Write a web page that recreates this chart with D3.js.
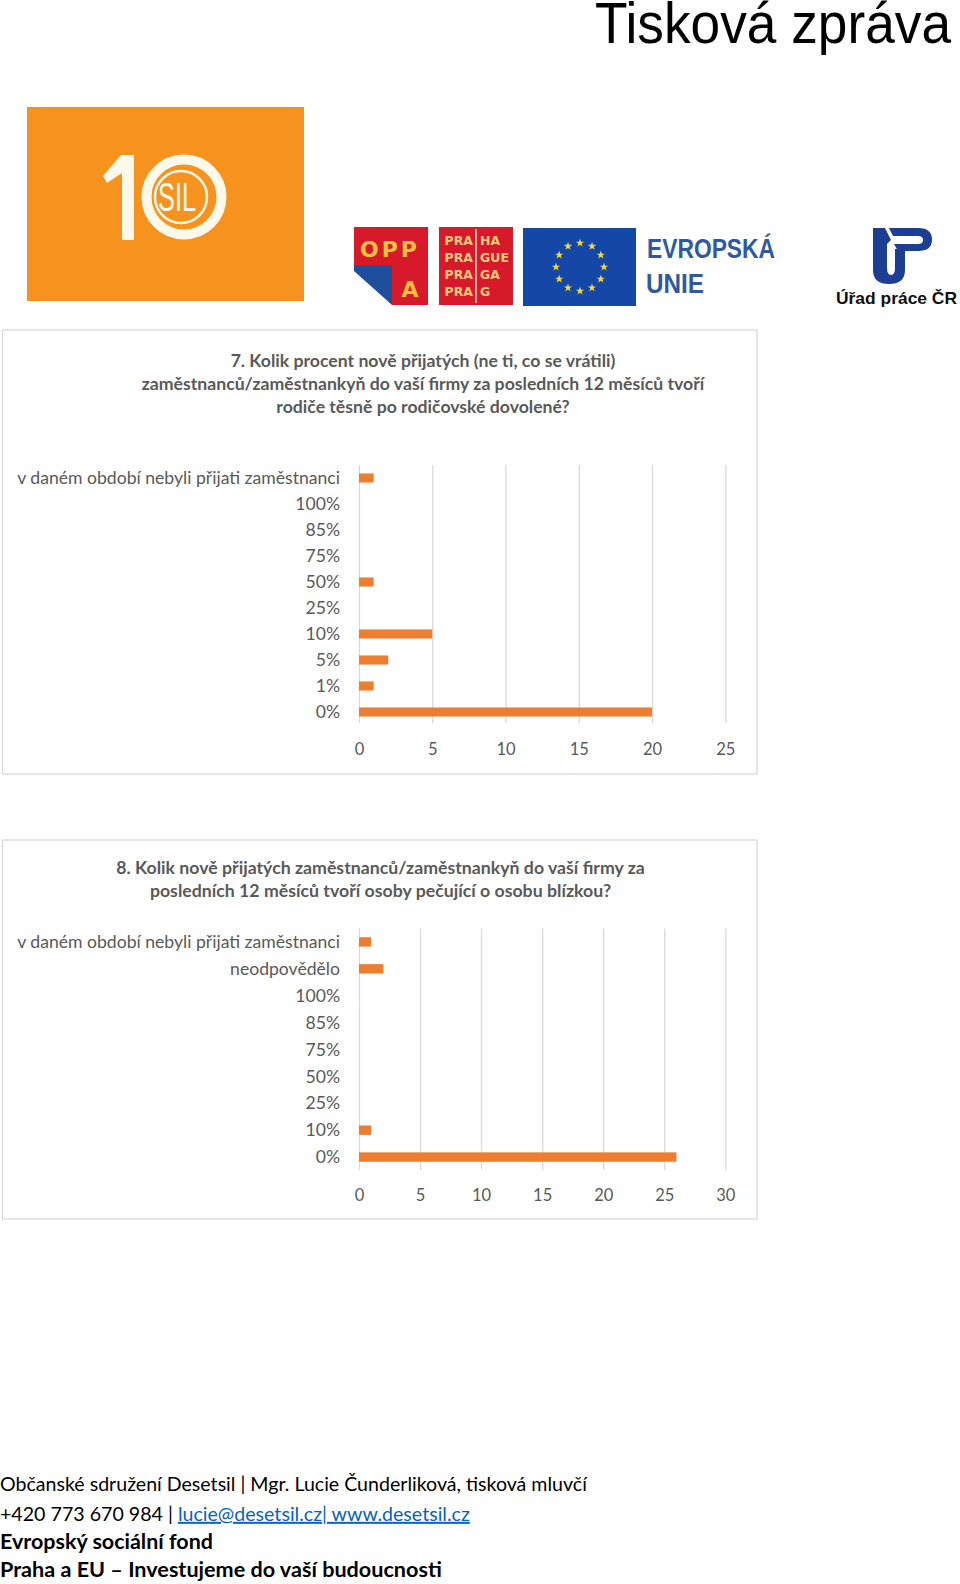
<!DOCTYPE html>
<html>
<head>
<meta charset="utf-8">
<script src="https://cdn.jsdelivr.net/npm/d3@7"></script>
<style>
  html, body { margin: 0; padding: 0; background: #fff; }
  svg { display: block; }
</style>
</head>
<body>
<svg id="page" width="960" height="1584"></svg>
<script>
// ---------------- DATA ----------------
const chart1Title = [
  "7. Kolik procent nově přijatých (ne ti, co se vrátili)",
  "zaměstnanců/zaměstnankyň do vaší firmy za posledních 12 měsíců tvoří",
  "rodiče těsně po rodičovské dovolené?"
];
const chart1Categories = ["v daném období nebyli přijati zaměstnanci", "100%", "85%", "75%", "50%", "25%", "10%", "5%", "1%", "0%"];
const chart1Values = [1, 0, 0, 0, 1, 0, 5, 2, 1, 20];
const chart1Ticks = [0, 5, 10, 15, 20, 25];

const chart2Title = [
  "8. Kolik nově přijatých zaměstnanců/zaměstnankyň do vaší firmy za",
  "posledních 12 měsíců tvoří osoby pečující o osobu blízkou?"
];
const chart2Categories = ["v daném období nebyli přijati zaměstnanci", "neodpovědělo", "100%", "85%", "75%", "50%", "25%", "10%", "0%"];
const chart2Values = [1, 2, 0, 0, 0, 0, 0, 1, 26];
const chart2Ticks = [0, 5, 10, 15, 20, 25, 30];

const footerLine1 = "Občanské sdružení Desetsil | Mgr. Lucie Čunderliková, tisková mluvčí";
const footerLine2a = "+420 773 670 984 | ";
const footerLine2b = "lucie@desetsil.cz| www.desetsil.cz";
const footerLine3 = "Evropský sociální fond";
const footerLine4 = "Praha a EU – Investujeme do vaší budoucnosti";

// ---------------- HELPERS ----------------
const svg = d3.select("#page");
const FONT = "Lato, 'Open Sans', 'Noto Sans', sans-serif";
const GRAY = "#595959";
const BAR = "#ED7D31";
const GRID = "#D9D9D9";

function fitSize(sel, target) {
  const base = parseFloat(sel.attr("font-size"));
  const len = sel.node().getComputedTextLength();
  return base * target / len;
}

svg.append("rect").attr("width", 960).attr("height", 1584).attr("fill", "#fff");

// ---------------- HEADER ----------------
svg.append("text")
  .attr("x", 595).attr("y", 43)
  .attr("font-family", "'Liberation Sans', Arial, sans-serif")
  .attr("font-size", 57)
  .attr("textLength", 356).attr("lengthAdjust", "spacingAndGlyphs")
  .attr("fill", "#000")
  .text("Tisková zpráva");

// 10 SIL logo
const logo = svg.append("g");
const CREAM = "#FFF9EC";
logo.append("rect").attr("x", 27).attr("y", 107).attr("width", 277).attr("height", 194).attr("fill", "#F6931F");
logo.append("polygon")
  .attr("points", "121,155 134,155 134,240 122,240 122,173 107,183 103,176")
  .attr("fill", CREAM);
logo.append("circle").attr("cx", 184).attr("cy", 197).attr("r", 37.5)
  .attr("fill", "none").attr("stroke", CREAM).attr("stroke-width", 10);
logo.append("circle").attr("cx", 181).attr("cy", 197).attr("r", 26)
  .attr("fill", "none").attr("stroke", CREAM).attr("stroke-width", 2.5);
logo.append("text").attr("x", 158).attr("y", 211)
  .attr("font-family", "'Liberation Sans', sans-serif")
  .attr("font-size", 40)
  .attr("textLength", 38).attr("lengthAdjust", "spacingAndGlyphs")
  .attr("fill", CREAM).text("SIL");

// OPPA logo
const oppa = svg.append("g");
oppa.append("rect").attr("x", 354).attr("y", 227).attr("width", 74).attr("height", 40).attr("fill", "#D71A2A");
oppa.append("rect").attr("x", 392).attr("y", 265).attr("width", 36).attr("height", 40).attr("fill", "#D71A2A");
oppa.append("polygon").attr("points", "354,265 392,265 392,305 354,271").attr("fill", "#1F4E9C");
oppa.append("text").attr("x", 390).attr("y", 257).attr("text-anchor", "middle")
  .attr("font-family", "'DejaVu Sans', sans-serif").attr("font-weight", "bold")
  .attr("font-size", 22).attr("letter-spacing", 3).attr("fill", "#F8C23A").text("OPP");
oppa.append("text").attr("x", 410).attr("y", 297).attr("text-anchor", "middle")
  .attr("font-family", "'DejaVu Sans', sans-serif").attr("font-weight", "bold")
  .attr("font-size", 22).attr("fill", "#F8C23A").text("A");

// PRAHA logo
const praha = svg.append("g");
praha.append("rect").attr("x", 439).attr("y", 227).attr("width", 74).attr("height", 78).attr("fill", "#D71A2A");
praha.append("line").attr("x1", 476).attr("x2", 476).attr("y1", 229).attr("y2", 303)
  .attr("stroke", "#F6D6C8").attr("stroke-width", 1.5);
const prahaRight = ["HA", "GUE", "GA", "G"];
prahaRight.forEach((t, i) => {
  const y = 245 + i * 17;
  praha.append("text").attr("x", 473).attr("y", y).attr("text-anchor", "end")
    .attr("font-family", "'DejaVu Sans', sans-serif").attr("font-weight", "bold")
    .attr("font-size", 12.5).attr("fill", "#F8C77E").text("PRA");
  praha.append("text").attr("x", 480).attr("y", y)
    .attr("font-family", "'DejaVu Sans', sans-serif").attr("font-weight", "bold")
    .attr("font-size", 12.5).attr("fill", "#F8C77E").text(t);
});

// EU flag
const eu = svg.append("g");
eu.append("rect").attr("x", 523).attr("y", 228).attr("width", 113).attr("height", 78).attr("fill", "#1547A6");
const star = d3.symbol().type(d3.symbolStar).size(22);
d3.range(12).forEach(i => {
  const a = i / 12 * 2 * Math.PI;
  eu.append("path").attr("d", star())
    .attr("transform", `translate(${580 + 24 * Math.sin(a)},${267 - 24 * Math.cos(a)})`)
    .attr("fill", "#F5DA3A");
});
eu.append("text").attr("x", 647).attr("y", 258)
  .attr("font-family", "'Liberation Sans Narrow', 'Liberation Sans', sans-serif")
  .attr("font-weight", "bold").attr("font-size", 27)
  .attr("textLength", 128).attr("lengthAdjust", "spacingAndGlyphs")
  .attr("fill", "#2F5A9E").text("EVROPSKÁ");
eu.append("text").attr("x", 646).attr("y", 293)
  .attr("font-family", "'Liberation Sans Narrow', 'Liberation Sans', sans-serif")
  .attr("font-weight", "bold").attr("font-size", 27)
  .attr("textLength", 58).attr("lengthAdjust", "spacingAndGlyphs")
  .attr("fill", "#2F5A9E").text("UNIE");

// Úřad práce logo
const up = svg.append("g");
const UPB = "#1C3F94";
up.append("path")
  .attr("d", "M873,228 L885,228 L891,240 L887,244 L887,268 Q887,275 891,275 Q895,275 895,268 L895,249 L905,249 L905,270 Q905,284 889,284 Q873,284 873,270 Z")
  .attr("fill", UPB);
up.append("path")
  .attr("d", "M889,228 L918,228 Q932,228 932,239.5 Q932,251 918,251 L898,251 L894,244 L918,244 Q923,244 923,240 Q923,236 918,236 L893,236 Z")
  .attr("fill", UPB);
up.append("text").attr("x", 836).attr("y", 304)
  .attr("font-family", "'Liberation Sans', Arial, sans-serif").attr("font-weight", "bold")
  .attr("font-size", 16.5).attr("textLength", 121).attr("lengthAdjust", "spacingAndGlyphs")
  .attr("fill", "#111").text("Úřad práce ČR");

// ---------------- CHARTS ----------------
function drawChart(cfg) {
  const g = svg.append("g");
  g.append("rect")
    .attr("x", cfg.box[0]).attr("y", cfg.box[1])
    .attr("width", cfg.box[2] - cfg.box[0]).attr("height", cfg.box[3] - cfg.box[1])
    .attr("fill", "#fff").attr("stroke", GRID).attr("stroke-width", 1.3);

  const titleTexts = g.selectAll("text.title").data(cfg.title).enter().append("text")
    .attr("class", "title")
    .attr("x", cfg.titleX)
    .attr("y", (d, i) => cfg.titleY + i * 23)
    .attr("dy", "0.35em")
    .attr("text-anchor", "middle")
    .attr("font-family", FONT).attr("font-weight", "bold")
    .attr("font-size", 16).attr("fill", GRAY)
    .text(d => d);
  const ts = fitSize(titleTexts.filter((d, i) => i === cfg.titleFitIndex), cfg.titleFitWidth);
  titleTexts.attr("font-size", ts);

  const x = d3.scaleLinear().domain(cfg.domain).range([cfg.x0, cfg.x1]);
  const y = d3.scaleBand().domain(cfg.categories).range([cfg.yTop, cfg.yBottom])
    .paddingInner(0.65).paddingOuter(0.325);

  const axis = d3.axisBottom(x).tickValues(cfg.ticks)
    .tickSize(-(cfg.gridBottom - cfg.yTop)).tickPadding(cfg.tickPad).tickFormat(d3.format("d"));
  const ag = g.append("g").attr("transform", `translate(0,${cfg.gridBottom})`).call(axis);
  ag.select(".domain").remove();
  ag.selectAll(".tick line").attr("stroke", GRID).attr("stroke-width", 1.3);
  ag.selectAll(".tick text").attr("fill", GRAY).attr("font-family", FONT).attr("font-size", 16.5);

  g.selectAll("rect.bar").data(cfg.values).enter().append("rect")
    .attr("class", "bar")
    .attr("x", x(0))
    .attr("y", (d, i) => y(cfg.categories[i]))
    .attr("width", d => x(d) - x(0))
    .attr("height", y.bandwidth())
    .attr("fill", BAR);

  const labels = g.selectAll("text.cat").data(cfg.categories).enter().append("text")
    .attr("class", "cat")
    .attr("x", cfg.x0 - 19)
    .attr("y", d => y(d) + y.bandwidth() / 2)
    .attr("dy", "0.35em")
    .attr("text-anchor", "end")
    .attr("font-family", FONT).attr("font-size", 16).attr("fill", GRAY)
    .text(d => d);
  const cs = fitSize(labels.filter((d, i) => i === 0), 323);
  labels.attr("font-size", cs);
}

drawChart({
  box: [2.5, 330, 757, 774],
  title: chart1Title, titleX: 423, titleY: 361, titleFitIndex: 1, titleFitWidth: 563,
  categories: chart1Categories, values: chart1Values, ticks: chart1Ticks,
  domain: [0, 25], x0: 359, x1: 725.3,
  yTop: 465, yBottom: 725, gridBottom: 723, tickPad: 20
});

drawChart({
  box: [2.5, 840, 757, 1219],
  title: chart2Title, titleX: 380.5, titleY: 868, titleFitIndex: 0, titleFitWidth: 529,
  categories: chart2Categories, values: chart2Values, ticks: chart2Ticks,
  domain: [0, 30], x0: 359, x1: 725.3,
  yTop: 928.5, yBottom: 1170.5, gridBottom: 1170, tickPad: 19
});

// ---------------- FOOTER ----------------
const f1 = svg.append("text").attr("x", 0).attr("y", 1484).attr("dy", "0.35em")
  .attr("font-family", FONT).attr("font-size", 18).attr("fill", "#000").text(footerLine1);
f1.attr("font-size", fitSize(f1, 587));

const f2 = svg.append("text").attr("x", 0).attr("y", 1514).attr("dy", "0.35em")
  .attr("font-family", FONT).attr("font-size", 18).attr("fill", "#000");
f2.append("tspan").text(footerLine2a);
f2.append("tspan").attr("fill", "#0563C1").attr("text-decoration", "underline").text(footerLine2b);
f2.attr("font-size", fitSize(f2, 470));

const f3 = svg.append("text").attr("x", 0).attr("y", 1541).attr("dy", "0.35em")
  .attr("font-family", FONT).attr("font-weight", "bold").attr("font-size", 18).attr("fill", "#000").text(footerLine3);
f3.attr("font-size", fitSize(f3, 213));

const f4 = svg.append("text").attr("x", 0).attr("y", 1569).attr("dy", "0.35em")
  .attr("font-family", FONT).attr("font-weight", "bold").attr("font-size", 18).attr("fill", "#000").text(footerLine4);
f4.attr("font-size", fitSize(f4, 442));
</script>
</body>
</html>
